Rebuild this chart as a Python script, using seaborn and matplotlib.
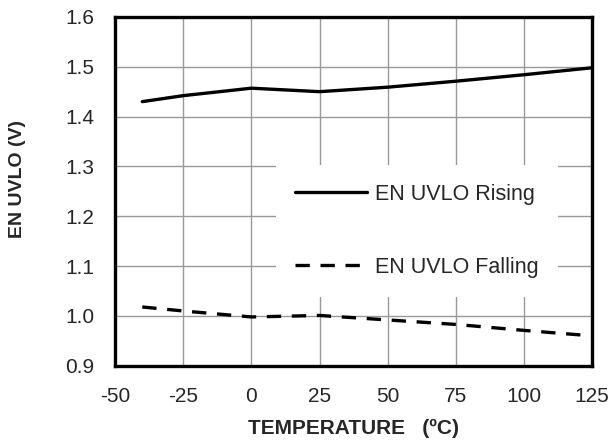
import numpy as np
import pandas as pd
import seaborn as sns
import matplotlib
matplotlib.use("Agg")
import matplotlib.pyplot as plt

# values
temperature = [-40, -25, 0, 25, 50, 75, 100, 125]
rising = [1.430, 1.442, 1.457, 1.450, 1.459, 1.471, 1.484, 1.498]
falling = [1.018, 1.010, 0.998, 1.001, 0.992, 0.983, 0.971, 0.960]

x_ticks = [-50, -25, 0, 25, 50, 75, 100, 125]
y_ticks = [0.9, 1.0, 1.1, 1.2, 1.3, 1.4, 1.5, 1.6]

df = pd.DataFrame({
    "temp": temperature * 2,
    "volt": rising + falling,
    "series": ["EN UVLO Rising"] * len(rising) + ["EN UVLO Falling"] * len(falling),
})

sns.set_style("white")
plt.rcParams['font.family'] = ['Liberation Sans', 'DejaVu Sans']

fig = plt.figure(figsize=(6.15, 4.45), dpi=100)
ax = fig.add_axes([0.187, 0.178, 0.776, 0.784])

sns.lineplot(data=df, x="temp", y="volt", hue="series", style="series",
             palette=["black", "black"],
             dashes={"EN UVLO Rising": "", "EN UVLO Falling": (4.3, 3.2)},
             linewidth=2.4, ax=ax, zorder=3)

ax.set_xlim(-50, 125)
ax.set_ylim(0.9, 1.6)
ax.set_xticks(x_ticks)
ax.set_yticks(y_ticks)
ax.set_xticklabels([str(t) for t in x_ticks])
ax.set_yticklabels([f"{v:.1f}" for v in y_ticks])
ax.tick_params(labelsize=15, length=0)
ax.tick_params(axis="y", pad=15)
ax.tick_params(axis="x", pad=15)
ax.grid(True, color="#999999", linewidth=1)
ax.set_axisbelow(True)
for s in ax.spines.values():
    s.set_color("black")
    s.set_linewidth(2.4)
    s.set_zorder(5)

ax.set_xlabel("TEMPERATURE   (ºC)", fontsize=15, fontweight="bold")
ax.set_ylabel("EN UVLO (V)", fontsize=14, fontweight="bold")
ax.xaxis.set_label_coords(0.5, -0.152)
ax.yaxis.set_label_coords(-0.187, 0.535)

leg = ax.legend(loc="center", bbox_to_anchor=(0.633, 0.387), fontsize=15.5,
                frameon=True, facecolor="white", edgecolor="none", framealpha=1,
                fancybox=False, labelspacing=2.4, handlelength=3.3,
                handletextpad=0.4, borderpad=0.9, borderaxespad=0)
leg.set_zorder(4)

fig.savefig("out.png", dpi=100)
